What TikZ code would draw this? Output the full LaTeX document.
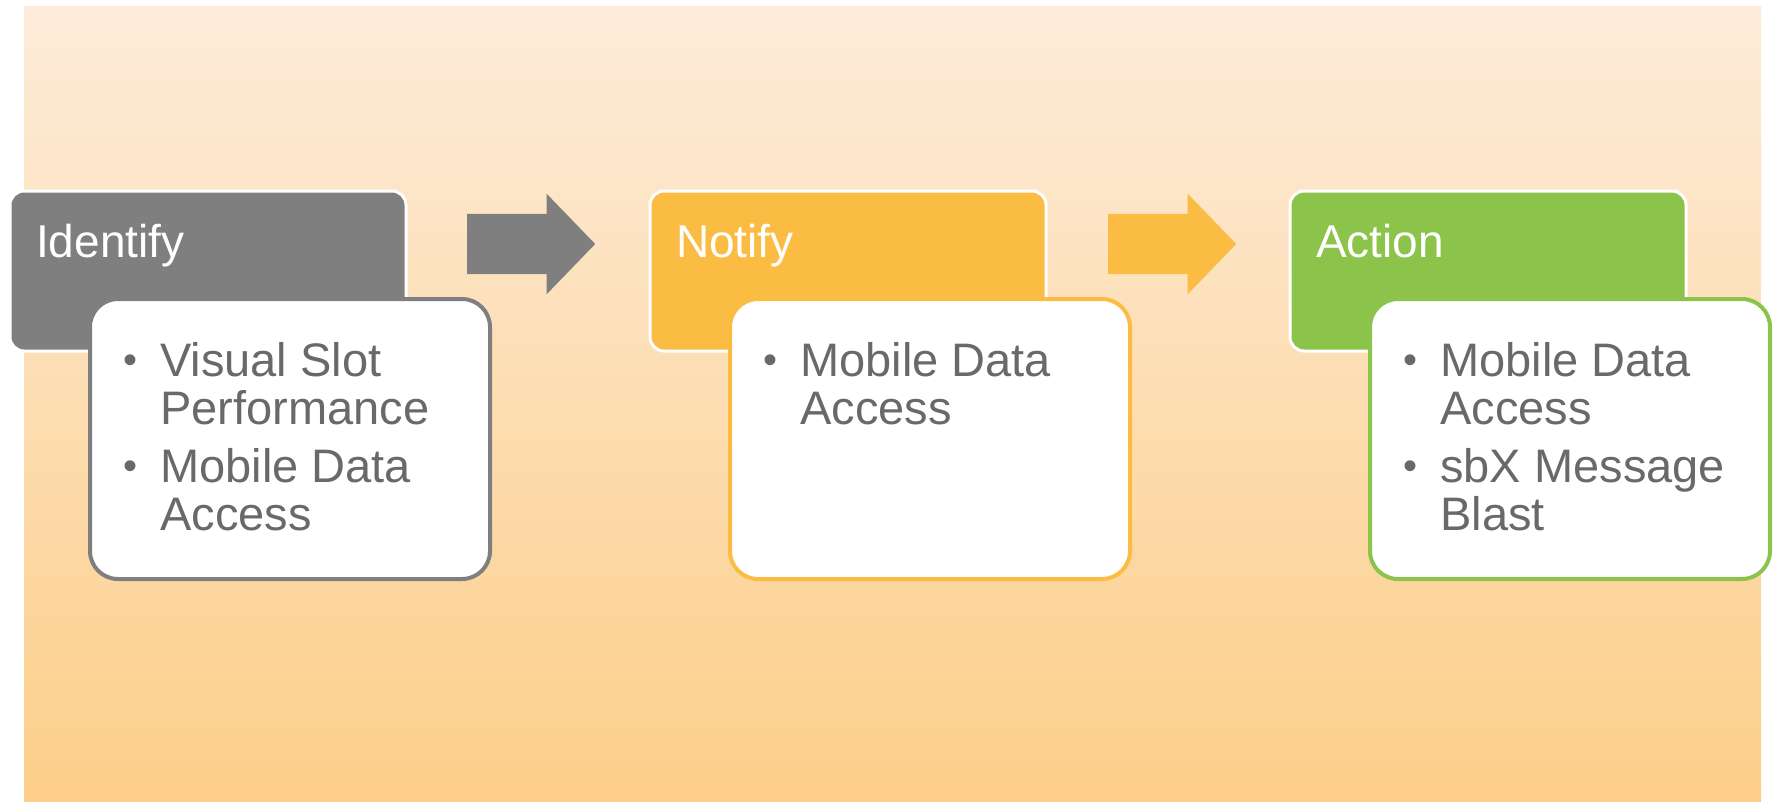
\documentclass[tikz,border=0pt]{standalone}
\usepackage{fontspec}
\setmainfont{Liberation Sans}
\usetikzlibrary{calc,shapes.arrows}

\definecolor{stepGray}{HTML}{7F7F7F}
\definecolor{stepOrange}{HTML}{FBBC43}
\definecolor{stepGreen}{HTML}{8CC34A}
\definecolor{itemGray}{HTML}{696969}
\definecolor{bgTop}{HTML}{FDECDA}
\definecolor{bgBottom}{HTML}{FDCE89}

\tikzset{
  headbox/.style = {draw=white, line width=3pt, rounded corners=14pt, minimum width=396pt,
    minimum height=160pt, anchor=north west, inner sep=0pt, outer sep=0pt},
  headtext/.style = {text=white, font=\fontsize{46}{48}\selectfont, anchor=base west, inner sep=0pt},
  bodybox/.style = {fill=white, line width=4pt, rounded corners=28pt, minimum width=400pt,
    minimum height=280pt, anchor=north west, inner sep=0pt, outer sep=0pt},
  itemtext/.style = {text=itemGray, font=\fontsize{47}{48}\selectfont, anchor=base west, inner sep=0pt},
  blockarrow/.style = {single arrow, single arrow head extend=20pt, single arrow tip angle=92,
    minimum height=128pt, inner xsep=0pt, inner ysep=30pt, anchor=tail}
}

\pgfkeys{
 /stepBlock/.is family, /stepBlock,
 color/.estore in = \sbColor,
 title/.estore in = \sbTitle,
 name/.estore in = \sbName,
 default/.style = {color=stepGray, title=Step, name=defaultname}
}
\newcommand{\bul}{\makebox[37pt][l]{\raisebox{3pt}{\fontsize{40}{40}\selectfont\textbullet}}}
\newcommand{\stepBlock}[3][]{
    \pgfkeys{/stepBlock, default, #1}%
    \node[headbox, fill=\sbColor] (\sbName_head) at #2 {};
    \node[headtext] (\sbName_title) at ($(\sbName_head.north west) + (26, 66)$) {\sbTitle};
    \node[bodybox, draw=\sbColor] (\sbName_body) at ($(\sbName_head.north west) + (80, 108)$) {};
    \node[itemtext] (\sbName_items) at ($(\sbName_body.north west) + (33, 77)$) {#3};
}

\begin{document}
\begin{tikzpicture}[x=1pt, y=-1pt]
    \useasboundingbox (0,0) rectangle (1777,801);
    \shade[top color=bgTop, bottom color=bgBottom] (24,6) rectangle (1761,801);

    \stepBlock[name=identify, color=stepGray, title=Identify]{(10,191)}{%
      \begin{tabular}[t]{@{}l@{}l@{}}
        \bul & Visual Slot\\ & Performance\\[10pt]
        \bul & Mobile Data\\ & Access
      \end{tabular}}
    \stepBlock[name=notify, color=stepOrange, title=Notify]{(650,191)}{%
      \begin{tabular}[t]{@{}l@{}l@{}}
        \bul & Mobile Data\\ & Access
      \end{tabular}}
    \stepBlock[name=action, color=stepGreen, title=Action]{(1290,191)}{%
      \begin{tabular}[t]{@{}l@{}l@{}}
        \bul & Mobile Data\\ & Access\\[10pt]
        \bul & sbX Message\\ & Blast
      \end{tabular}}

    % arrows between the steps
    \node[blockarrow, fill=stepGray] (arrowA) at (467,244) {};
    \node[blockarrow, fill=stepOrange] (arrowB) at (1108,244) {};
\end{tikzpicture}
\end{document}
